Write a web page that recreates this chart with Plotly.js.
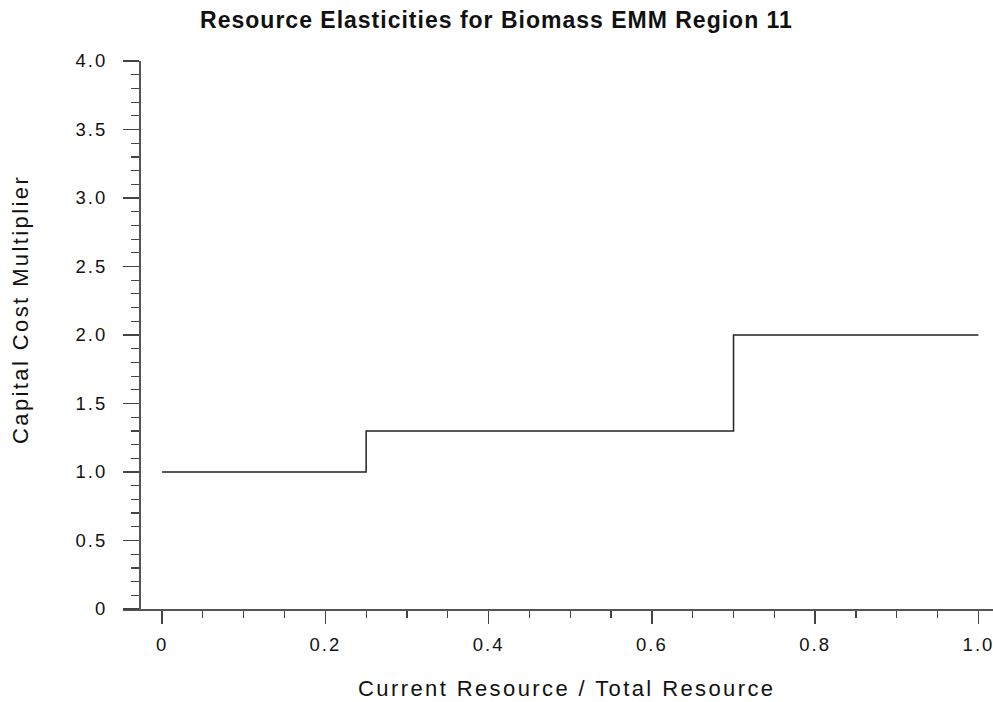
<!DOCTYPE html>
<html>
<head>
<meta charset="utf-8">
<script src="https://cdn.plot.ly/plotly-3.0.1.min.js"></script>
<style>
html,body{margin:0;padding:0;background:#fff;}
#chart{width:993px;height:702px;}
.gtitle{letter-spacing:1px;}
.annotation-text{letter-spacing:2.4px;}
.xtick text,.ytick text{letter-spacing:2px;}
</style>
</head>
<body>
<div id="chart"></div>
<script>
// Data
const resourceShare = [0, 0.25, 0.7, 1.0];
const costMultiplier = [1.0, 1.3, 2.0, 2.0];
const xTickVals = [0, 0.2, 0.4, 0.6, 0.8, 1.0];
const xTickText = ['0', '0.2', '0.4', '0.6', '0.8', '1.0'];
const yTickVals = [0, 0.5, 1.0, 1.5, 2.0, 2.5, 3.0, 3.5, 4.0];
const yTickText = ['0', '0.5', '1.0', '1.5', '2.0', '2.5', '3.0', '3.5', '4.0'];

const FONT = 'Liberation Sans, Arial, Helvetica, sans-serif';

const trace = {
  x: resourceShare,
  y: costMultiplier,
  type: 'scatter',
  mode: 'lines',
  line: {shape: 'hv', color: '#222', width: 1.5},
  hoverinfo: 'skip',
  cliponaxis: false
};

const layout = {
  width: 993,
  height: 702,
  margin: {l: 123, r: 0, t: 61, b: 93, pad: 0},
  paper_bgcolor: '#fff',
  plot_bgcolor: '#fff',
  showlegend: false,
  font: {family: FONT, color: '#111'},
  title: {
    text: 'Resource Elasticities for Biomass EMM Region 11',
    font: {family: FONT, size: 23, color: '#111', weight: 'bold'},
    x: 0.5, xref: 'container', xanchor: 'center',
    y: 1 - 20 / 702, yref: 'container', yanchor: 'middle'
  },
  xaxis: {
    range: [-0.0478, 1.0178],
    tickmode: 'array',
    tickvals: xTickVals,
    ticktext: xTickText,
    ticks: 'outside',
    ticklen: 13,
    tickwidth: 1.5,
    tickcolor: '#444',
    ticklabelstandoff: 5,
    ticklabeloverflow: 'allow',
    tickfont: {family: FONT, size: 18.5, color: '#111'},
    minor: {dtick: 0.05, tick0: 0, ticks: 'outside', ticklen: 7, tickwidth: 1.2, tickcolor: '#444', showgrid: false},
    showline: true,
    linecolor: '#555',
    linewidth: 1.5,
    showgrid: false,
    zeroline: false,
    fixedrange: true
  },
  yaxis: {
    range: [0, 4],
    anchor: 'free',
    position: 16 / 870,
    tickmode: 'array',
    tickvals: yTickVals,
    ticktext: yTickText,
    ticks: 'outside',
    ticklen: 16,
    tickwidth: 1.5,
    tickcolor: '#444',
    ticklabelstandoff: 12,
    tickfont: {family: FONT, size: 18.5, color: '#111'},
    minor: {dtick: 0.1, tick0: 0, ticks: 'outside', ticklen: 8, tickwidth: 1.2, tickcolor: '#444', showgrid: false},
    showline: true,
    linecolor: '#555',
    linewidth: 1.5,
    showgrid: false,
    zeroline: false,
    fixedrange: true
  },
  annotations: [
    {
      text: 'Current Resource / Total Resource',
      xref: 'paper', yref: 'paper',
      x: (567 - 123) / 870, y: (609 - 688) / 548,
      xanchor: 'center', yanchor: 'middle',
      showarrow: false,
      font: {family: FONT, size: 22, color: '#111'}
    },
    {
      text: 'Capital Cost Multiplier',
      xref: 'paper', yref: 'paper',
      x: (20 - 123) / 870, y: (609 - 310) / 548,
      xanchor: 'center', yanchor: 'middle',
      textangle: -90,
      showarrow: false,
      font: {family: FONT, size: 22, color: '#111'}
    }
  ]
};

Plotly.newPlot('chart', [trace], layout, {displayModeBar: false, staticPlot: true});
</script>
</body>
</html>
